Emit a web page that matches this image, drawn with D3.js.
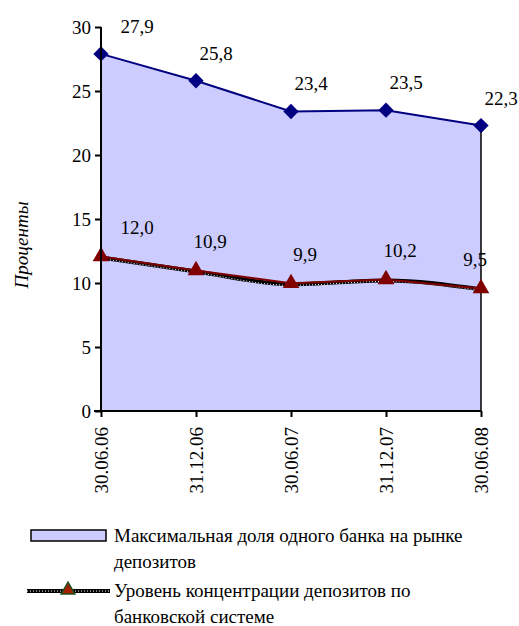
<!DOCTYPE html>
<html>
<head>
  <meta charset="utf-8">
  <script src="https://d3js.org/d3.v7.min.js"></script>
  <style>
    body { margin: 0; background: #fff; font-family: 'Liberation Serif'; }
  </style>
</head>
<body>
  <svg width="519" height="626" style="font-family: 'Liberation Serif'; font-size: 19px"></svg>
  <script>
    // data
    var dates = ["30.06.06", "31.12.06", "30.06.07", "31.12.07", "30.06.08"];
    var maxShare = [27.9, 25.8, 23.4, 23.5, 22.3];
    var concentration = [12.0, 10.9, 9.9, 10.2, 9.5];
    var yTicks = [0, 5, 10, 15, 20, 25, 30];
    var legendLabels = [
      ["Максимальная доля одного банка на рынке", "депозитов"],
      ["Уровень концентрации депозитов по", "банковской системе"]
    ];

    var svg = d3.select("svg"),
      margin = { top: 27, left: 101 },
      width = 380,
      height = 384;

    var x = d3.scalePoint().domain(dates).range([0, width]),
      y = d3.scaleLinear().domain([0, 30]).range([height, 0]);

    var fmt = function(v) { return d3.format(".1f")(v).replace(".", ","); };

    var g = svg.append("g")
      .attr("transform", "translate(" + margin.left + "," + margin.top + ")");

    var s1 = dates.map(function(d, i) { return { d: d, v: maxShare[i] }; });
    var s2 = dates.map(function(d, i) { return { d: d, v: concentration[i] }; });

    // area series
    var area = d3.area()
      .x(function(d) { return x(d.d); })
      .y0(y(0))
      .y1(function(d) { return y(d.v); });

    g.append("path")
      .datum(s1)
      .attr("d", area)
      .attr("fill", "#ccccff");

    g.append("line")
      .attr("x1", x(dates[dates.length - 1])).attr("x2", x(dates[dates.length - 1]))
      .attr("y1", y(maxShare[maxShare.length - 1])).attr("y2", y(0))
      .attr("stroke", "#000").attr("stroke-width", 1.5);

    var line = d3.line()
      .x(function(d) { return x(d.d); })
      .y(function(d) { return y(d.v); });

    var smooth = d3.line()
      .x(function(d) { return x(d.d); })
      .y(function(d) { return y(d.v); })
      .curve(d3.curveMonotoneX);

    g.append("path")
      .datum(s1)
      .attr("d", line)
      .attr("fill", "none")
      .attr("stroke", "#000080")
      .attr("stroke-width", 2);

    g.selectAll(".diamond")
      .data(s1)
      .enter().append("path")
      .attr("class", "diamond")
      .attr("transform", function(d) { return "translate(" + x(d.d) + "," + y(d.v) + ")"; })
      .attr("d", d3.symbol().type(d3.symbolDiamond2).size(150))
      .attr("fill", "#000080");

    // concentration line: patterned black line with dark red on top
    g.append("path")
      .datum(s2)
      .attr("d", smooth)
      .attr("fill", "none")
      .attr("stroke", "#000")
      .attr("stroke-width", 4);

    g.append("path")
      .datum(s2)
      .attr("d", smooth)
      .attr("fill", "none")
      .attr("stroke", "#fff")
      .attr("stroke-width", 1)
      .attr("stroke-dasharray", "1,2")
      .attr("transform", "translate(0,1)");

    g.append("path")
      .datum(s2)
      .attr("d", line)
      .attr("fill", "none")
      .attr("stroke", "#800000")
      .attr("stroke-width", 2)
      .attr("transform", "translate(0,-1)");

    g.selectAll(".tri")
      .data(s2)
      .enter().append("path")
      .attr("class", "tri")
      .attr("transform", function(d) { return "translate(" + x(d.d) + "," + (y(d.v) - 1) + ")"; })
      .attr("d", d3.symbol().type(d3.symbolTriangle).size(120))
      .attr("fill", "#800000");

    // axes
    var yAxis = d3.axisLeft(y).tickValues(yTicks).tickSize(6).tickPadding(4);
    var yg = g.append("g").call(yAxis)
      .attr("font-family", "Liberation Serif").attr("font-size", 19);
    yg.select(".domain").attr("stroke-width", 2).attr("d", "M0," + height + "V0");
    yg.selectAll(".tick line").attr("stroke-width", 2);

    var xAxis = d3.axisBottom(x).tickSize(6).tickPadding(8);
    var xg = g.append("g")
      .attr("transform", "translate(0," + height + ")")
      .call(xAxis)
      .attr("font-family", "Liberation Serif").attr("font-size", 19);
    xg.select(".domain").attr("stroke-width", 2).attr("d", "M-7,0H" + width);
    xg.selectAll(".tick line").attr("stroke-width", 2);
    xg.selectAll("text")
      .attr("text-anchor", "end")
      .attr("transform", "rotate(-90)")
      .attr("x", -16)
      .attr("y", 0)
      .attr("dy", "0.35em");

    // data labels
    g.selectAll(".lab1")
      .data(s1)
      .enter().append("text")
      .attr("x", function(d, i) { return x(d.d) + (i === 0 ? 36 : 20); })
      .attr("y", function(d) { return y(d.v) - 21; })
      .attr("text-anchor", "middle")
      .text(function(d) { return fmt(d.v); });

    g.selectAll(".lab2")
      .data(s2)
      .enter().append("text")
      .attr("x", function(d, i) { return x(d.d) + (i === 0 ? 36 : (i === 4 ? -6 : 14)); })
      .attr("y", function(d) { return y(d.v) - 23; })
      .attr("text-anchor", "middle")
      .text(function(d) { return fmt(d.v); });

    // y label
    svg.append("text")
      .attr("transform", "translate(28," + 245 + ") rotate(-90)")
      .attr("text-anchor", "middle")
      .attr("font-style", "italic")
      .text("Проценты");

    // legend
    var leg = svg.append("g");
    leg.append("rect")
      .attr("x", 31).attr("y", 530).attr("width", 75).attr("height", 11)
      .attr("fill", "#ccccff").attr("stroke", "#000").attr("stroke-width", 1.5);
    leg.append("line")
      .attr("x1", 27).attr("x2", 110).attr("y1", 591).attr("y2", 591)
      .attr("stroke", "#000").attr("stroke-width", 4);
    leg.append("line")
      .attr("x1", 27).attr("x2", 110).attr("y1", 591).attr("y2", 591)
      .attr("stroke", "#fff").attr("stroke-width", 1).attr("stroke-dasharray", "1,2");
    leg.append("path")
      .attr("transform", "translate(68,590)")
      .attr("d", d3.symbol().type(d3.symbolTriangle).size(80))
      .attr("fill", "#a02000").attr("stroke", "#1f4f1f").attr("stroke-width", 1.5);

    legendLabels.forEach(function(lines, i) {
      var t = leg.append("text")
        .attr("x", 114)
        .attr("y", 542 + i * 55);
      lines.forEach(function(l, j) {
        t.append("tspan").attr("x", 114).attr("dy", j === 0 ? 0 : 26).text(l);
      });
    });

    svg.selectAll("text")
      .attr("font-family", "Liberation Serif")
      .attr("font-size", 19)
      .attr("fill", "#000");
  </script>
</body>
</html>
